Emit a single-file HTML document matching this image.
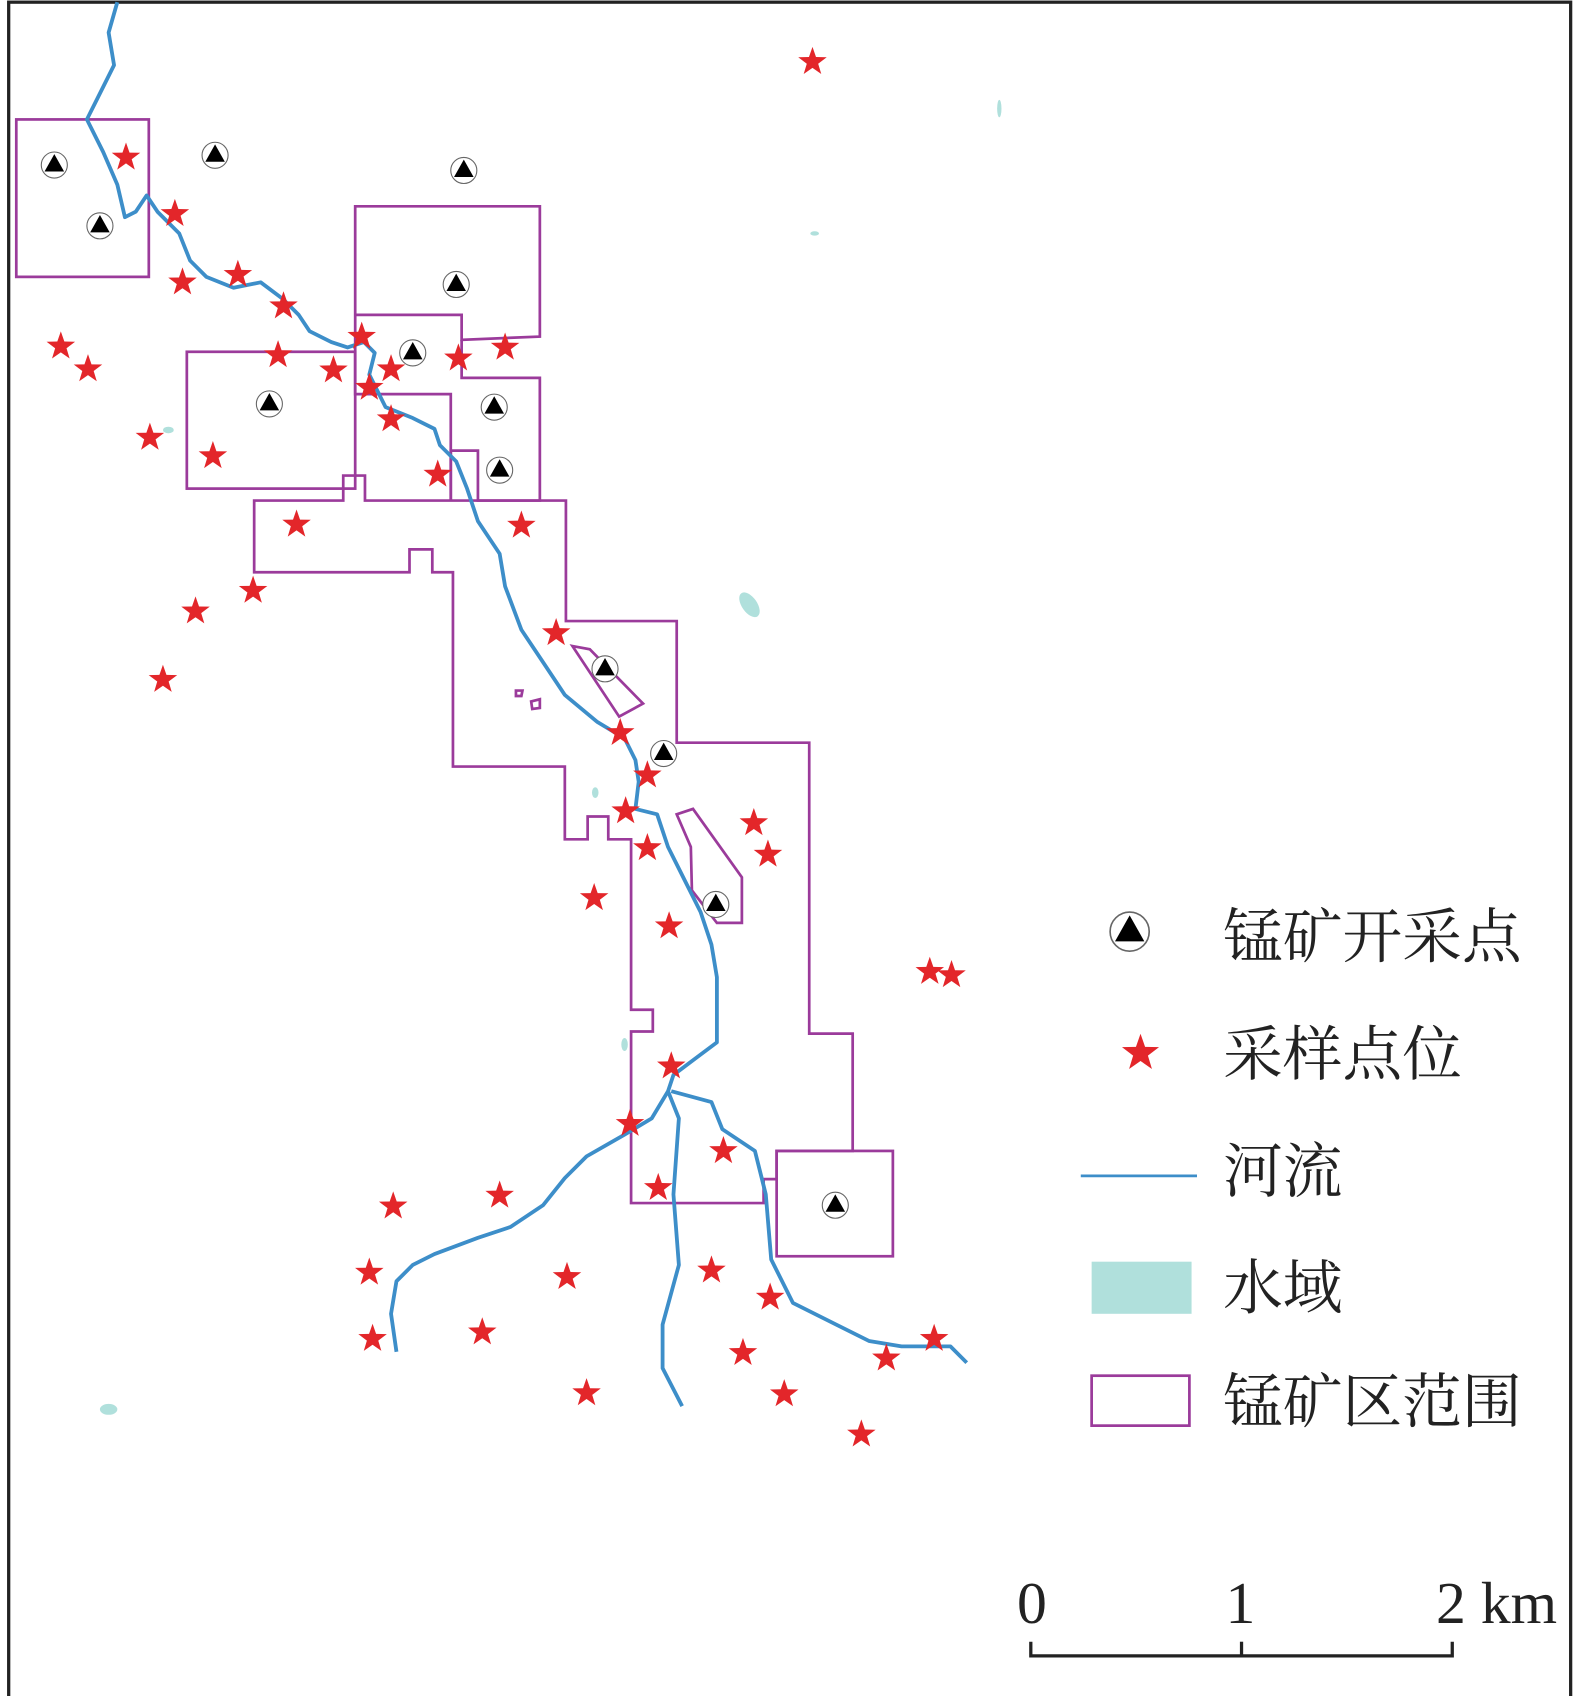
<!DOCTYPE html>
<html><head><meta charset="utf-8"><style>html,body{margin:0;padding:0;background:#fff}svg{display:block}</style></head>
<body>
<svg width="1575" height="1696" viewBox="0 0 1450 1562" preserveAspectRatio="none" xmlns="http://www.w3.org/2000/svg">
<defs>
<polygon id="s" points="0,-13.8 3.24,-4.46 13.12,-4.27 5.24,1.7 8.1,11.17 0,5.52 -8.1,11.17 -5.24,1.7 -13.12,-4.27 -3.24,-4.46" fill="#e3262a"/>
<g id="t"><circle r="12" fill="#fff" stroke="#666" stroke-width="1"/><polygon points="0,-10 9,6 -9,6" fill="#000"/></g>
</defs>
<rect x="8" y="2" width="1438" height="1562" fill="#fff" stroke="#222" stroke-width="3"/>
<g fill="#b0e0dc">
<ellipse cx="690" cy="557" rx="7" ry="13" transform="rotate(-35 690 557)"/>
<ellipse cx="155" cy="396" rx="5" ry="3"/>
<ellipse cx="100" cy="1298" rx="8" ry="5"/>
<ellipse cx="920" cy="100" rx="2" ry="8"/>
<ellipse cx="750" cy="215" rx="4" ry="2"/>
<ellipse cx="548" cy="730" rx="3" ry="5"/>
<ellipse cx="575" cy="962" rx="3" ry="6"/>
</g>
<g fill="none" stroke="#9b3b9b" stroke-width="2.5">
<rect x="15" y="110" width="122" height="145"/>
<polyline points="327,290 327,190 497,190 497,310 425,313 425,290 327,290 327,363 415,363 415,461"/>
<polyline points="425,313 425,348 497,348 497,461 440,461 440,415 415,415 415,461"/>
<rect x="172" y="324" width="155" height="126"/>
<polygon points="234,461 316,461 316,438 336,438 336,461 521,461 521,572 623,572 623,684 745,684 745,952 785,952 785,1060 715,1060 715,1086 703,1086 703,1108 581,1108 581,950 601,950 601,930 581,930 581,773 560,773 560,752 541,752 541,773 520,773 520,706 417,706 417,527 398,527 398,506 377,506 377,527 234,527"/>
<rect x="715" y="1060" width="107" height="97"/>
<polygon points="527,595 543,598 592,648 570,660"/>
<polygon points="623,750 638,745 683,808 683,850 660,850 637,820 636,780"/>
<polygon points="475,636 481,636 480,641 475,641"/>
<polygon points="489,646 497,644 497,652 490,653"/>
</g>
<g fill="none" stroke="#3d8ec9" stroke-width="3.5" stroke-linejoin="round">
<polyline points="108,2 100,30 105,60 90,90 80,110 95,140 108,170 115,200 125,195 135,180 145,195 165,215 175,240 190,255 215,265 240,260 260,275 275,290 285,305 305,315 320,320 335,315 345,325 340,345 355,375 380,385 400,395 405,410 420,425 430,450 440,480 460,510 465,540 480,580 500,610 520,640 550,665 575,680 585,700 588,720 585,745 605,750 615,780 625,800 645,840 655,870 660,900 660,960 640,975 620,990 615,1005 600,1030 575,1045 540,1065 520,1085 500,1110 470,1130 440,1140 400,1155 380,1165 365,1180 360,1210 365,1245"/>
<polyline points="615,1005 625,1030 620,1100 625,1165 610,1220 610,1260 628,1295"/>
<polyline points="618,1005 655,1015 665,1040 695,1060 705,1100 710,1160 730,1200 770,1220 800,1235 830,1240 875,1240 890,1255"/>
</g>
<g>
<use href="#t" x="50" y="152"/><use href="#t" x="92" y="208"/><use href="#t" x="198" y="143"/>
<use href="#t" x="427" y="157"/><use href="#t" x="420" y="262"/><use href="#t" x="380" y="325"/>
<use href="#t" x="248" y="372"/><use href="#t" x="455" y="375"/><use href="#t" x="460" y="433"/>
<use href="#t" x="557" y="616"/><use href="#t" x="611" y="694"/><use href="#t" x="659" y="833"/>
<use href="#t" x="769" y="1110"/>
</g>
<g>
<use href="#s" x="748" y="57"/><use href="#s" x="116" y="145"/><use href="#s" x="161" y="197"/><use href="#s" x="168" y="260"/><use href="#s" x="219" y="253"/><use href="#s" x="261" y="282"/><use href="#s" x="56" y="319"/><use href="#s" x="81" y="340"/><use href="#s" x="138" y="403"/><use href="#s" x="196" y="420"/><use href="#s" x="256" y="327"/><use href="#s" x="307" y="341"/><use href="#s" x="333" y="310"/><use href="#s" x="360" y="340"/><use href="#s" x="340" y="357"/><use href="#s" x="360" y="386"/><use href="#s" x="422" y="330"/><use href="#s" x="465" y="320"/><use href="#s" x="403" y="437"/><use href="#s" x="480" y="484"/><use href="#s" x="273" y="483"/><use href="#s" x="233" y="544"/><use href="#s" x="180" y="563"/><use href="#s" x="150" y="626"/><use href="#s" x="512" y="583"/><use href="#s" x="571" y="675"/><use href="#s" x="596" y="714"/><use href="#s" x="576" y="747"/><use href="#s" x="596" y="781"/><use href="#s" x="694" y="758"/><use href="#s" x="707" y="787"/><use href="#s" x="547" y="827"/><use href="#s" x="616" y="853"/><use href="#s" x="856" y="895"/><use href="#s" x="876" y="898"/><use href="#s" x="618" y="982"/><use href="#s" x="580" y="1035"/><use href="#s" x="666" y="1060"/><use href="#s" x="606" y="1094"/><use href="#s" x="362" y="1111"/><use href="#s" x="460" y="1101"/><use href="#s" x="340" y="1172"/><use href="#s" x="522" y="1176"/><use href="#s" x="655" y="1170"/><use href="#s" x="709" y="1195"/><use href="#s" x="343" y="1233"/><use href="#s" x="444" y="1227"/><use href="#s" x="684" y="1246"/><use href="#s" x="816" y="1251"/><use href="#s" x="860" y="1233"/><use href="#s" x="540" y="1283"/><use href="#s" x="722" y="1284"/><use href="#s" x="793" y="1321"/>
</g>
<g font-family="'Liberation Serif','Noto Serif CJK SC',serif" font-size="55" fill="#222">
<g transform="translate(1040,858) scale(1.5)"><use href="#t"/></g>
<text x="1126" y="882">锰矿开采点</text>
<g transform="translate(1050,970) scale(1.3)"><use href="#s"/></g>
<text x="1126" y="990">采样点位</text>
<line x1="995" y1="1083" x2="1102" y2="1083" stroke="#3d8ec9" stroke-width="2.5"/>
<text x="1126" y="1098">河流</text>
<rect x="1005" y="1162" width="92" height="48" fill="#b0e0dc"/>
<text x="1126" y="1205">水域</text>
<rect x="1005" y="1267" width="90" height="46" fill="none" stroke="#9b3b9b" stroke-width="2.5"/>
<text x="1126" y="1310">锰矿区范围</text>
<text x="950" y="1495" text-anchor="middle">0</text>
<text x="1142" y="1495" text-anchor="middle">1</text>
<text x="1322" y="1495">2 km</text>
</g>
<g stroke="#222" stroke-width="3" fill="none">
<polyline points="949,1512 949,1525 1337,1525 1337,1512"/>
<line x1="1143" y1="1512" x2="1143" y2="1525"/>
</g>
</svg>
</body></html>
